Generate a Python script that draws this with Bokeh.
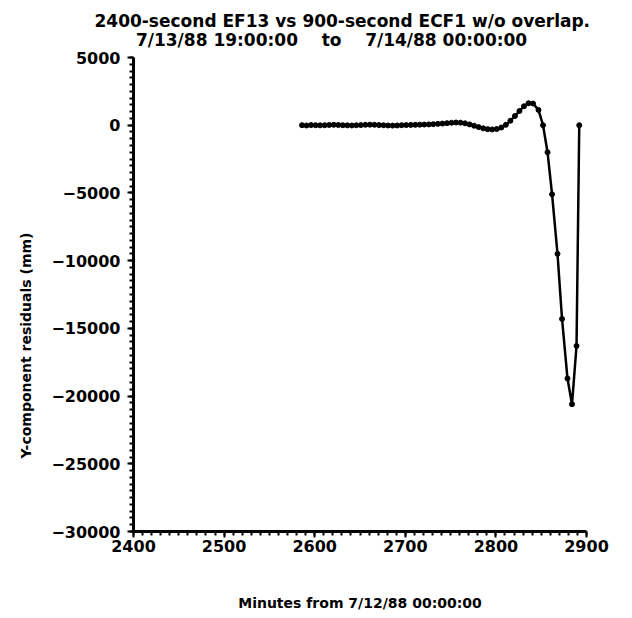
from bokeh.plotting import figure
from bokeh.models import Range1d, SingleIntervalTicker, Title
from bokeh.embed import file_html
from bokeh.resources import INLINE

# Minutes from 7/12/88 00:00:00
minutes = [2586, 2591, 2596, 2601, 2606, 2611, 2616, 2621, 2626, 2631,
           2636, 2641, 2646, 2651, 2656, 2661, 2666, 2671, 2676, 2681,
           2686, 2691, 2696, 2701, 2706, 2711, 2716, 2721, 2726, 2731,
           2736, 2741, 2746, 2751, 2756, 2761, 2766, 2771, 2776, 2781,
           2786, 2791, 2796, 2801, 2806, 2811, 2816, 2821, 2826, 2831,
           2836, 2841, 2847, 2852, 2857, 2862, 2868, 2873, 2879, 2884,
           2889, 2892]
# Y-component residual (mm)
residual = [0, -20, 10, 0, -10, 0, 20, 30, 20, 0,
            -10, -20, 0, 10, 30, 40, 30, 10, 0, -20,
            -30, -20, 0, 10, 20, 30, 40, 50, 60, 80,
            100, 120, 150, 180, 200, 190, 140, 60, -40, -140,
            -230, -290, -310, -280, -170, 30, 330, 680, 1050, 1400,
            1620, 1600, 1130, 0, -2000, -5100, -9500, -14300, -18700, -20600,
            -16300, 0]

NB = "\u00a0" * 4
title_line1 = "2400-second EF13 vs 900-second ECF1 w/o overlap."
title_line2 = "7/13/88 19:00:00" + NB + "to" + NB + "7/14/88 00:00:00"
x_label = "Minutes from 7/12/88 00:00:00"
y_label = "Y-component residuals (mm)"

FONT = "DejaVu Sans"

p = figure(width=632, height=618, output_backend="svg", toolbar_location=None,
           x_range=Range1d(2400, 2900), y_range=Range1d(-30000, 5000),
           min_border_left=131, min_border_right=46, min_border_top=57,
           min_border_bottom=87)
p.outline_line_color = None
p.grid.visible = False
p.background_fill_color = "white"
p.border_fill_color = "white"

# two-line title; second line indented so both lines sit centred like the reference
p.title.text = title_line1 + "\n" + "\u00a0" * 7 + title_line2
p.title.align = "left"
p.title.offset = -39
p.title.text_font = FONT
p.title.text_font_style = "bold"
p.title.text_font_size = "17px"
p.title.text_color = "black"
p.title.text_line_height = 0.95
p.title.standoff = 16

# y-axis label as a left title, placed below the frame centre like the reference
ylab = Title(text=y_label, align="left", offset=73, text_font=FONT,
             text_font_style="bold", text_font_size="14px", text_color="black",
             standoff=30)
p.add_layout(ylab, "left")

p.xaxis.ticker = SingleIntervalTicker(interval=100, num_minor_ticks=10)
p.yaxis.ticker = SingleIntervalTicker(interval=5000, num_minor_ticks=10)

for ax in (p.xaxis[0], p.yaxis[0]):
    ax.axis_line_width = 3
    ax.axis_line_color = "black"
    ax.major_tick_line_width = 2
    ax.minor_tick_line_width = 2
    ax.major_tick_out = 6
    ax.major_tick_in = 0
    ax.minor_tick_out = 4
    ax.minor_tick_in = 0
    ax.major_label_text_font = FONT
    ax.major_label_text_font_style = "bold"
    ax.major_label_text_font_size = "16px"
    ax.major_label_text_color = "black"
    ax.axis_label_text_font = FONT
    ax.axis_label_text_font_style = "bold"
    ax.axis_label_text_font_size = "14px"
    ax.axis_label_text_color = "black"

p.xaxis.axis_label = x_label
p.xaxis.major_label_standoff = 2
p.yaxis.major_label_standoff = 7
p.xaxis.axis_label_standoff = 40

p.line(minutes, residual, line_color="black", line_width=2.5)
p.scatter(minutes, residual, size=5, color="black")

open("out.html", "w").write(file_html(p, INLINE))
